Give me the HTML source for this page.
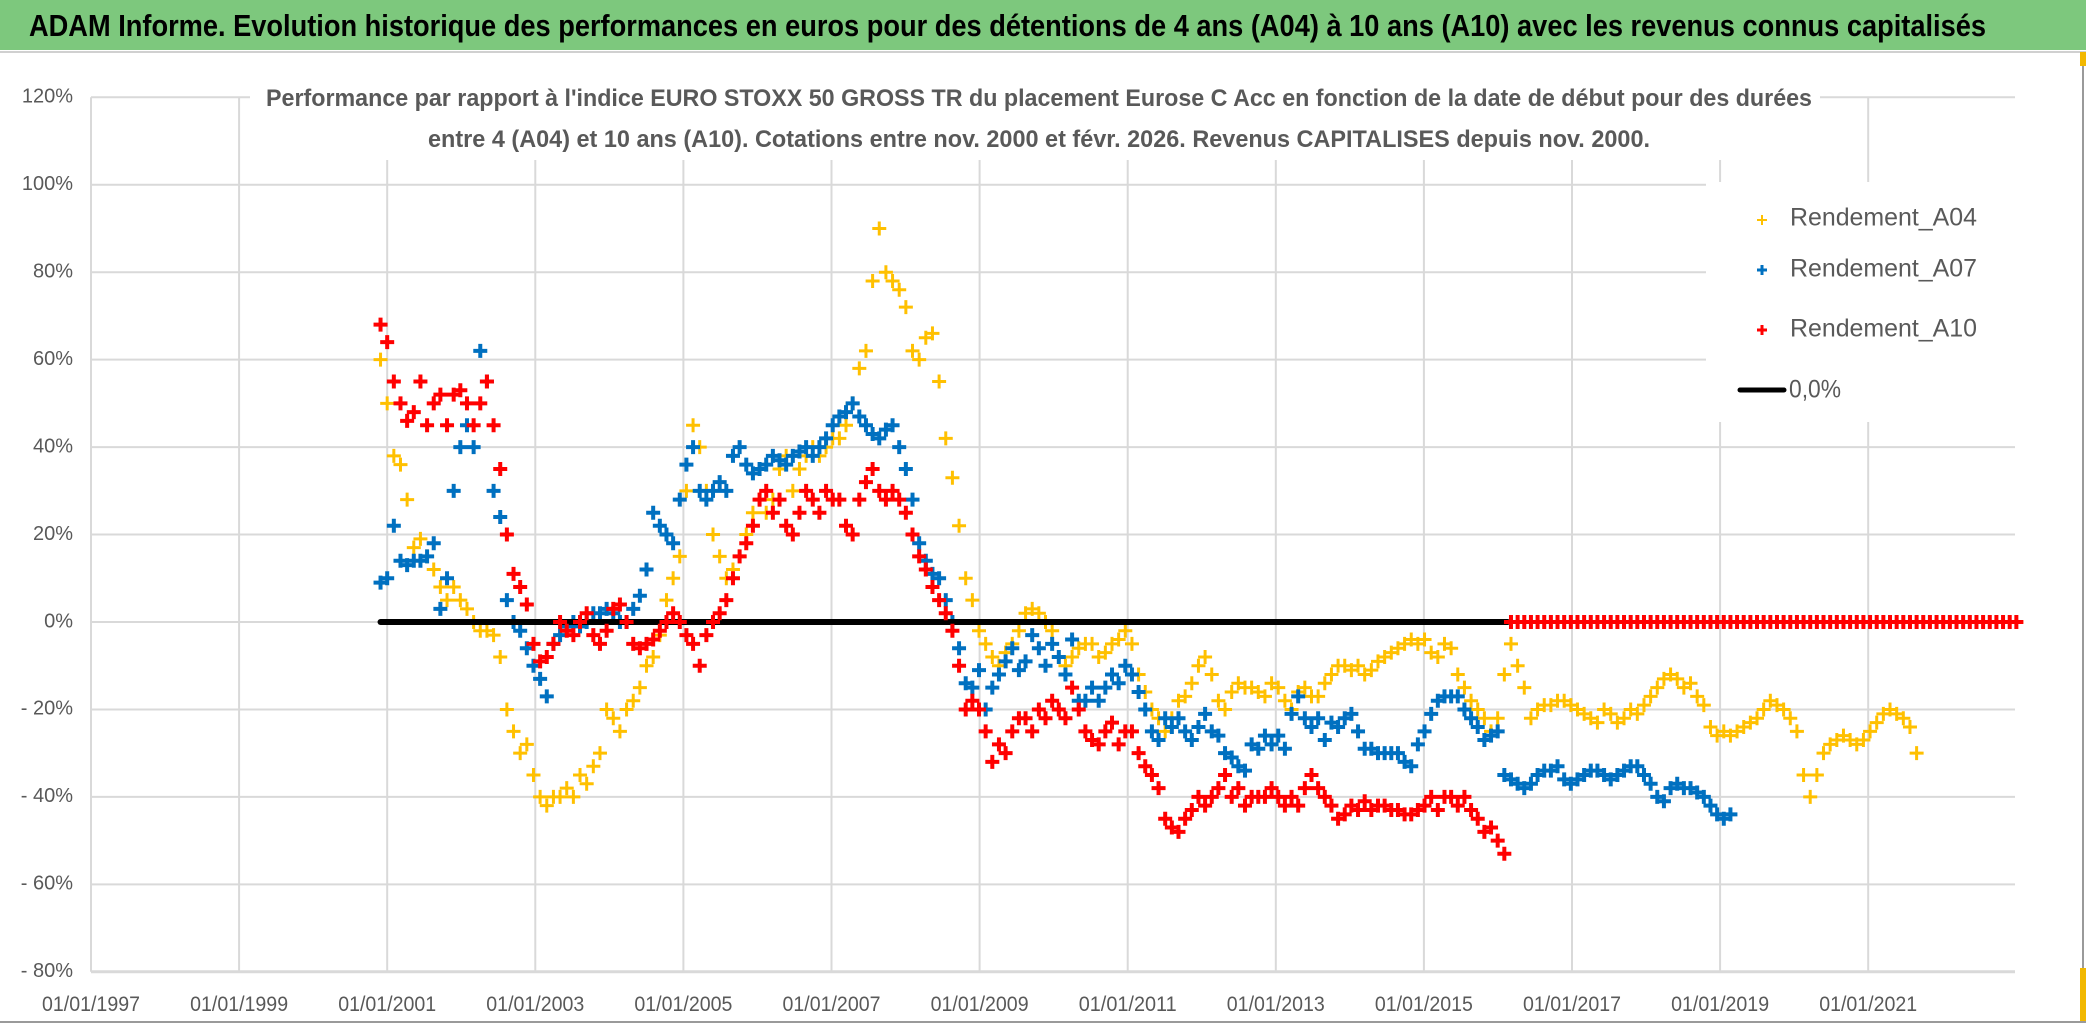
<!DOCTYPE html>
<html><head><meta charset="utf-8"><style>
html,body{margin:0;padding:0;background:#fff;}
svg{display:block;font-family:"Liberation Sans Narrow","Liberation Sans",sans-serif;}
</style></head><body>
<svg id="chart" width="2086" height="1031" viewBox="0 0 2086 1031" xmlns="http://www.w3.org/2000/svg">
<rect x="0" y="0" width="2086" height="1031" fill="#fff"/>
<rect x="0" y="0" width="2086" height="50" fill="#7dc87d"/>
<line x1="0" y1="52" x2="2086" y2="52" stroke="#d0d0d0" stroke-width="2"/>
<line x1="2083" y1="52" x2="2083" y2="1022" stroke="#9a9a9a" stroke-width="2"/>
<rect x="2080" y="52" width="6" height="14" fill="#f2b800"/>
<rect x="2080" y="968" width="6" height="54" fill="#f2b800"/>
<line x1="0" y1="1022" x2="2086" y2="1022" stroke="#9a9a9a" stroke-width="2"/>
<text x="29" y="36" textLength="1957" lengthAdjust="spacingAndGlyphs" font-size="31" font-weight="bold" fill="#000">ADAM Informe. Evolution historique des performances en euros pour des détentions de 4 ans (A04) à 10 ans (A10) avec les revenus connus capitalisés</text>
<g id="grid"></g>
<rect x="250" y="70" width="1570" height="90" fill="#fff"/>
<text x="266" y="106" textLength="1546" lengthAdjust="spacingAndGlyphs" font-size="24" font-weight="bold" fill="#595959">Performance par rapport à l'indice EURO STOXX 50 GROSS TR  du placement Eurose C Acc en fonction de la date de début pour des durées</text>
<text x="428" y="147" textLength="1222" lengthAdjust="spacingAndGlyphs" font-size="24" font-weight="bold" fill="#595959">entre 4 (A04) et 10 ans (A10). Cotations entre nov. 2000 et févr. 2026. Revenus CAPITALISES depuis nov. 2000.</text>
<g id="axes"></g>
<g id="marks"></g>
<g id="legend">
<rect x="1706" y="182" width="309" height="240" fill="#fff"/>
<g>
<path d="M1757 220h10M1762 215v10" stroke="#ffc000" stroke-width="2"/>
<text x="1790" y="219" textLength="187" lengthAdjust="spacingAndGlyphs" font-size="25" fill="#595959" dominant-baseline="middle">Rendement_A04</text></g>
<g>
<path d="M1757 270h10M1762 265v10" stroke="#0070c0" stroke-width="3"/>
<text x="1790" y="270" textLength="187" lengthAdjust="spacingAndGlyphs" font-size="25" fill="#595959" dominant-baseline="middle">Rendement_A07</text></g>
<g>
<path d="M1757 330h10M1762 325v10" stroke="#ff0000" stroke-width="3"/>
<text x="1790" y="330" textLength="187" lengthAdjust="spacingAndGlyphs" font-size="25" fill="#595959" dominant-baseline="middle">Rendement_A10</text></g>
<g>
<line x1="1740" y1="390" x2="1784" y2="390" stroke="#000" stroke-width="5" stroke-linecap="round"/>
<text x="1789" y="391" textLength="52" lengthAdjust="spacingAndGlyphs" font-size="25" fill="#595959" dominant-baseline="middle">0,0%</text></g>
</g>
</svg>
<script>
const yTicks = [120,100,80,60,40,20,0,-20,-40,-60,-80];
const yTickLabels = ["120%","100%","80%","60%","40%","20%","0%","- 20%","- 40%","- 60%","- 80%"];
const xTicks = [1997,1999,2001,2003,2005,2007,2009,2011,2013,2015,2017,2019,2021];
const xTickLabels = ["01/01/1997","01/01/1999","01/01/2001","01/01/2003","01/01/2005","01/01/2007","01/01/2009","01/01/2011","01/01/2013","01/01/2015","01/01/2017","01/01/2019","01/01/2021"];
const startYear = 2000.91;
const sampleStepYears = 0.0898;
const zeroLineStart = 2000.91;
const zeroLineEnd = 2016.13;
const a04 = [60,50,38,36,28,17,19,15,12,8,5,8,5,3,0,-2,-2,-3,-8,-20,-25,-30,-28,-35,-40,-42,-40,-40,-38,-40,-35,-37,-33,-30,-20,-22,-25,-20,-18,-15,-10,-8,-3,5,10,15,30,45,40,30,20,15,10,12,15,20,25,28,25,28,35,38,30,35,38,40,38,40,42,42,45,50,58,62,78,90,80,78,76,72,62,60,65,66,55,42,33,22,10,5,-2,-5,-8,-10,-7,-5,-2,2,3,2,0,-2,-8,-10,-8,-6,-5,-5,-8,-7,-5,-4,-2,-5,-12,-16,-20,-22,-25,-22,-18,-17,-14,-10,-8,-12,-18,-20,-16,-14,-15,-15,-16,-17,-14,-15,-18,-20,-16,-15,-17,-17,-14,-12,-10,-10,-11,-10,-12,-11,-9,-8,-7,-6,-5,-4,-5,-4,-7,-8,-5,-6,-12,-15,-18,-20,-22,-25,-22,-12,-5,-10,-15,-22,-20,-19,-19,-18,-18,-19,-20,-21,-22,-23,-20,-21,-23,-22,-20,-21,-19,-17,-15,-13,-12,-13,-15,-14,-17,-19,-24,-26,-25,-26,-25,-24,-23,-22,-20,-18,-19,-20,-22,-25,-35,-40,-35,-30,-28,-27,-26,-27,-28,-27,-25,-23,-21,-20,-21,-22,-24,-30,0,0,0,0,0,0,0,0,0,0,0,0,0,0,0];
const a07 = [9,10,22,14,13,14,14,15,18,3,10,30,40,45,40,62,55,30,24,5,0,-2,-6,-10,-13,-17,-5,-3,-1,0,-1,0,2,2,3,2,0,0,3,6,12,25,22,20,18,28,36,40,30,28,30,32,30,38,40,36,34,35,36,38,37,36,38,39,40,38,40,42,45,47,48,50,47,45,43,42,44,45,40,35,28,18,14,11,10,5,0,-6,-14,-15,-11,-20,-15,-12,-9,-6,-11,-9,-3,-6,-10,-5,-8,-12,-4,-18,-18,-15,-18,-15,-12,-14,-10,-12,-16,-20,-25,-27,-22,-24,-22,-25,-27,-24,-21,-25,-26,-30,-31,-33,-34,-28,-29,-26,-28,-26,-29,-21,-17,-22,-24,-22,-27,-23,-24,-22,-21,-25,-29,-29,-30,-30,-30,-30,-32,-33,-28,-25,-21,-18,-17,-17,-17,-20,-22,-24,-27,-26,-25,-35,-36,-37,-38,-37,-35,-34,-34,-33,-36,-37,-36,-35,-34,-34,-35,-36,-35,-34,-33,-33,-35,-37,-40,-41,-38,-37,-38,-38,-39,-40,-42,-44,-45,-44];
const a10 = [68,64,55,50,46,48,55,45,50,52,45,52,53,50,45,50,55,45,35,20,11,8,4,-5,-9,-8,-5,0,-2,-3,0,2,-3,-5,-2,3,4,0,-5,-6,-5,-4,-2,0,2,0,-3,-5,-10,-3,0,2,5,10,15,18,22,28,30,25,28,22,20,25,30,28,25,30,28,28,22,20,28,32,35,30,28,30,28,25,20,15,12,8,5,2,-2,-10,-20,-18,-20,-25,-32,-28,-30,-25,-22,-22,-25,-20,-22,-18,-20,-22,-15,-20,-25,-27,-28,-25,-23,-28,-25,-25,-30,-33,-35,-38,-45,-47,-48,-45,-43,-40,-42,-40,-38,-35,-40,-38,-42,-40,-40,-40,-38,-40,-42,-40,-42,-38,-35,-38,-40,-42,-45,-44,-42,-43,-41,-43,-42,-42,-43,-43,-44,-44,-43,-42,-40,-43,-40,-40,-42,-40,-43,-45,-48,-47,-50,-53,0,0,0,0,0,0,0,0,0,0,0,0,0,0,0,0,0,0,0,0,0,0,0,0,0,0,0,0,0,0,0,0,0,0,0,0,0,0,0,0,0,0,0,0,0,0,0,0,0,0,0,0,0,0,0,0,0,0,0,0,0,0,0,0,0,0,0,0,0,0,0,0,0,0,0,0,0];

const NS = "http://www.w3.org/2000/svg";
const plotLeft = 91, plotRight = 2015, plotTop = 97.3, plotBottom = 971.8;
const xMin = 1997, pxPerYear = 74.05;
function xScale(year){ return plotLeft + (year - xMin) * pxPerYear; }
function yScale(v){ return plotBottom - (v + 80) / 200 * (plotBottom - plotTop); }
function mk(tag, attrs, parent){ const e = document.createElementNS(NS, tag); for (const k in attrs) e.setAttribute(k, attrs[k]); parent.appendChild(e); return e; }

const grid = document.getElementById('grid');
yTicks.forEach((t) => {
  const l = mk('line', {x1: plotLeft, x2: plotRight, y1: yScale(t), y2: yScale(t), stroke: '#d9d9d9', 'stroke-width': (t === -80 ? 3 : 2)}, grid);
  
  
});
xTicks.forEach((t) => {
  const l = mk('line', {x1: xScale(t), x2: xScale(t), y1: plotTop, y2: plotBottom, stroke: '#d9d9d9', 'stroke-width': 2}, grid);
  
  
});

const axes = document.getElementById('axes');
yTicks.forEach((t, i) => {
  const tx = mk('text', {x: 73, y: yScale(t), 'text-anchor': 'end', 'dominant-baseline': 'middle', 'font-size': 20, fill: '#595959'}, axes);
  tx.textContent = yTickLabels[i];
  
  
});
xTicks.forEach((t, i) => {
  const tx = mk('text', {x: xScale(t), y: 1011, 'text-anchor': 'middle', 'font-size': 21, fill: '#595959', textLength: 98, lengthAdjust: 'spacingAndGlyphs'}, axes);
  tx.textContent = xTickLabels[i];
  
  
});

const marks = document.getElementById('marks');
function drawSeries(values, color, width, name){
  const g = mk('g', {stroke: color, 'stroke-width': width, fill: 'none'}, marks);
  
  
  let d = '';
  values.forEach((v, i) => {
    const x = xScale(startYear + i * sampleStepYears), y = yScale(v);
    d += 'M' + (x - 7) + ' ' + y + 'h14M' + x + ' ' + (y - 7) + 'v14';
  });
  const p = mk('path', {d: d}, g);
  
  
}
drawSeries(a04, '#ffc000', 3, 'series-a04');
drawSeries(a07, '#0070c0', 4, 'series-a07');
const zl = mk('line', {x1: xScale(zeroLineStart), x2: xScale(zeroLineEnd), y1: yScale(0), y2: yScale(0), stroke: '#000', 'stroke-width': 6, 'stroke-linecap': 'round'}, marks);


drawSeries(a10, '#ff0000', 4, 'series-a10');
</script>
</body></html>
